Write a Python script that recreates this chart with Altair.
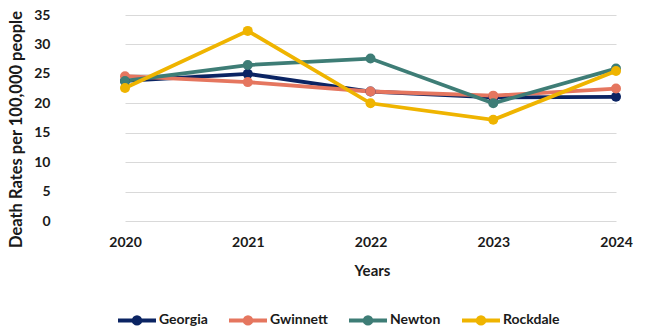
import altair as alt
import pandas as pd

# Death rates per 100,000 people, by county and year
years = ["2020", "2021", "2022", "2023", "2024"]
georgia = [23.8, 25.0, 22.0, 21.0, 21.1]
gwinnett = [24.6, 23.6, 22.0, 21.3, 22.5]
newton = [23.8, 26.5, 27.6, 20.0, 25.9]
rockdale = [22.6, 32.3, 20.0, 17.2, 25.5]

series_names = ["Georgia", "Gwinnett", "Newton", "Rockdale"]
series_colors = ["#0b2463", "#e5765f", "#3e7d76", "#efb400"]

rows = []
for name, vals in zip(series_names, [georgia, gwinnett, newton, rockdale]):
    for yr, v in zip(years, vals):
        rows.append({"Year": yr, "Rate": v, "Area": name})
df = pd.DataFrame(rows)

FONT = "Lato"
TXT = "#1a1a1a"

# legend glyph: short line with a dot in the middle
legend_glyph = (
    "M-1,0H1"
    "M-0.17,0A0.17,0.17 0 1,1 0.17,0A0.17,0.17 0 1,1 -0.17,0Z"
)

color = alt.Color(
    "Area:N",
    scale=alt.Scale(domain=series_names, range=series_colors),
    legend=alt.Legend(
        title=None,
        orient="none",
        direction="horizontal",
        legendX=52,
        legendY=284,
        symbolType=legend_glyph,
        symbolSize=1444,
        symbolStrokeWidth=4,
        labelFont=FONT,
        labelFontSize=14,
        labelFontWeight="bold",
        labelColor=TXT,
        labelOffset=1,
        columnPadding=13,
        symbolOpacity=1,
    ),
)

x = alt.X(
    "Year:O",
    sort=years,
    scale=alt.Scale(type="point", range=[61, 552], padding=0),
    axis=alt.Axis(
        title="Years",
        labelAngle=0,
        labelPadding=14,
        labelBaseline="top",
        ticks=False,
        domain=False,
        titleX=308,
        titleY=49,
        titleBaseline="middle",
    ),
)

y = alt.Y(
    "Rate:Q",
    scale=alt.Scale(domain=[0, 35], nice=False),
    axis=alt.Axis(
        title="Death Rates per 100,000 people",
        titleFontSize=16.5,
        values=[0, 5, 10, 15, 20, 25, 30, 35],
        ticks=False,
        domain=False,
        labelPadding=14,
        grid=True,
        gridColor="#d9d9d9",
        gridWidth=1.2,
        titleX=-40,
        titleY=114,
    ),
)

lines = alt.Chart(df).mark_line(strokeWidth=3.8).encode(x=x, y=y, color=color)
dots = alt.Chart(df).mark_circle(size=100, opacity=1).encode(x=x, y=y, color=color)

chart = (
    alt.layer(lines, dots)
    .properties(
        width=602,
        height=206,
        background="white",
        autosize=alt.AutoSizeParams(type="none"),
        padding={"left": 64, "top": 15, "right": 0, "bottom": 107},
    )
    .configure_view(stroke=None)
    .configure_axis(
        labelFont=FONT,
        labelFontSize=14,
        labelFontWeight="bold",
        labelColor=TXT,
        titleFont=FONT,
        titleFontSize=15,
        titleFontWeight="bold",
        titleColor=TXT,
    )
)

chart.save("out.html", embed_options={"renderer": "svg", "actions": False})
